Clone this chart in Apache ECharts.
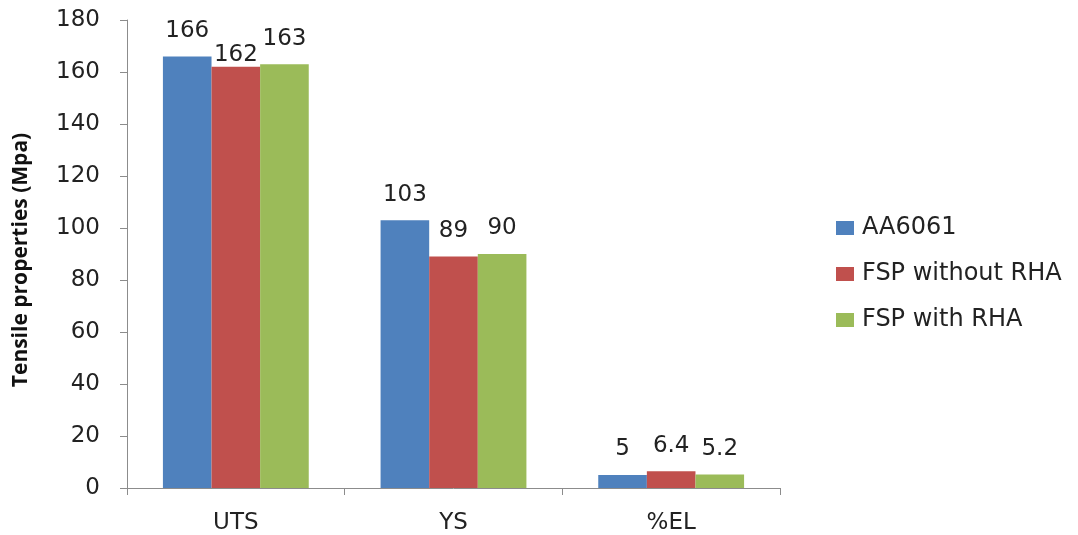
<!DOCTYPE html>
<html><head><meta charset="utf-8">
<script src="https://cdn.jsdelivr.net/npm/echarts@6/dist/echarts.min.js"></script>
<style>html,body{margin:0;padding:0;background:#fff}#c{width:1078px;height:535px}</style>
</head><body><div id="c"></div>
<script>
const categories = ['UTS', 'YS', '%EL'];
const seriesNames = ['AA6061', 'FSP without RHA', 'FSP with RHA'];
const aa6061 = [166, 103, 5];
const fspWithout = [162, 89, 6.4];
const fspWith = [163, 90, 5.2];
const yTicks = { min: 0, max: 180, interval: 20 };
const colors = ['#4F81BD', '#C0504D', '#9BBB59'];
const font = 'DejaVu Sans, sans-serif';
const chart = echarts.init(document.getElementById('c'));
const mk = (name, data, color, lowered) => ({
  name, type: 'bar', itemStyle: { color },
  data: data.map((v, i) => (lowered === i ? { value: v, label: { distance: 0 } } : v)),
  barGap: '0%', barCategoryGap: '33%',
  label: { show: true, position: 'top', distance: 14, fontSize: 23, lineHeight: 23, color: '#222', fontFamily: font }
});
chart.setOption({
  animation: false,
  grid: { left: 127, right: 298, top: 20, bottom: 47 },
  legend: {
    orient: 'vertical', left: 831, top: 211, itemWidth: 18, itemHeight: 14, itemGap: 22,
    icon: 'rect', textStyle: { fontSize: 24, lineHeight: 24, color: '#222', fontFamily: font, padding: [0, 0, 0, 3] }
  },
  xAxis: {
    type: 'category', data: categories,
    axisLine: { lineStyle: { color: '#8c8c8c' } },
    axisTick: { show: true, alignWithLabel: false, length: 7, lineStyle: { color: '#8c8c8c' } },
    axisLabel: { fontSize: 23, color: '#222', margin: 24, fontFamily: font }
  },
  yAxis: {
    type: 'value', min: yTicks.min, max: yTicks.max, interval: yTicks.interval,
    name: 'Tensile properties (Mpa)', nameLocation: 'middle', nameGap: 95,
    nameTextStyle: { fontSize: 21, fontWeight: 'bold', color: '#111', fontFamily: 'Open Sans, sans-serif', padding: [0, 12, 0, 0] },
    axisLine: { show: true, lineStyle: { color: '#8c8c8c' } },
    axisTick: { show: true, length: 7, lineStyle: { color: '#8c8c8c' } },
    splitLine: { show: false },
    axisLabel: { fontSize: 23, color: '#222', margin: 27, fontFamily: font }
  },
  series: [mk(seriesNames[0], aa6061, colors[0]), mk(seriesNames[1], fspWithout, colors[1], 0), mk(seriesNames[2], fspWith, colors[2])]
});
</script></body></html>
